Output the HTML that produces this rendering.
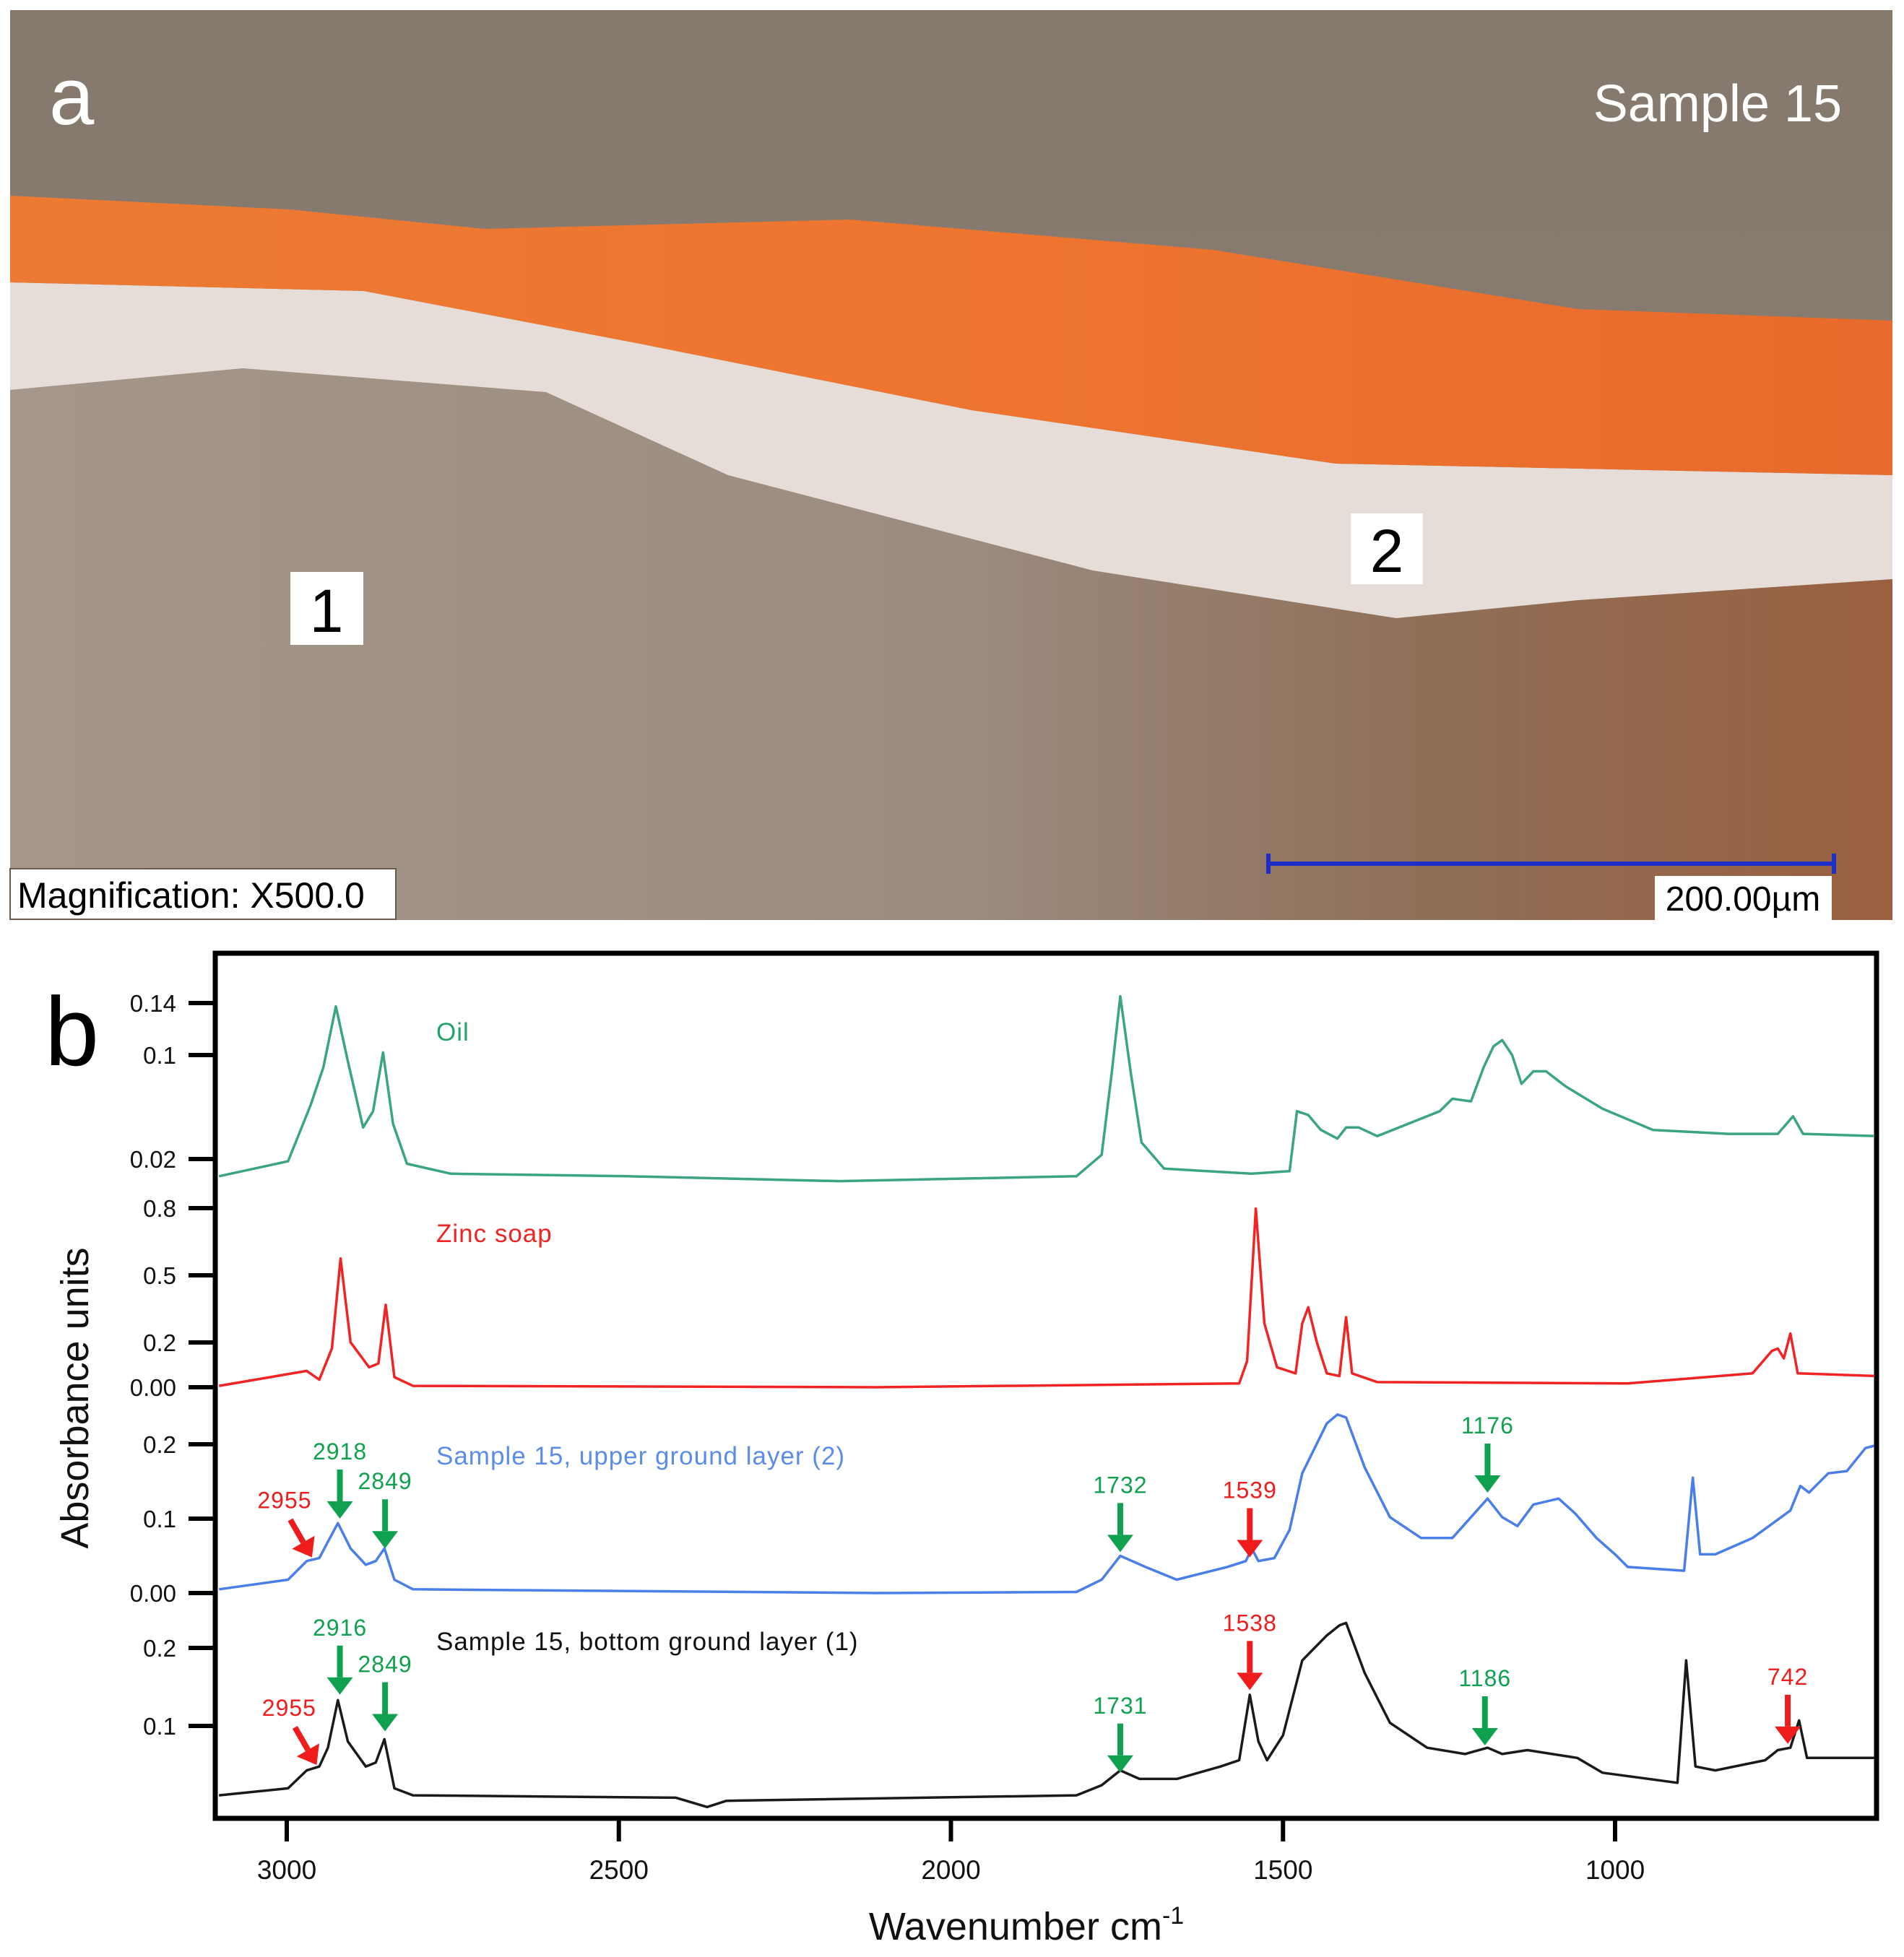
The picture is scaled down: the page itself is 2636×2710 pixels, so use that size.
<!DOCTYPE html>
<html><head><meta charset="utf-8">
<style>
html,body{margin:0;padding:0;background:#fff;}
svg{display:block;font-family:"Liberation Sans",Arial,sans-serif;}
</style></head>
<body>
<svg id="fig" width="2636" height="2710" viewBox="0 0 2636 2710" xmlns="http://www.w3.org/2000/svg">
<defs>
<linearGradient id="bgTop" x1="0" y1="0" x2="0" y2="1"><stop offset="0" stop-color="#85796d"/><stop offset="1" stop-color="#8c8074"/></linearGradient>
<linearGradient id="orangeG" x1="0" y1="0" x2="1" y2="0"><stop offset="0" stop-color="#ec7a33"/><stop offset="0.5" stop-color="#ee7530"/><stop offset="1" stop-color="#e86a2c"/></linearGradient>
<linearGradient id="lowerG" x1="0" y1="0" x2="1" y2="0"><stop offset="0" stop-color="#a4968a"/><stop offset="0.5" stop-color="#9c8c80"/><stop offset="0.75" stop-color="#8f6f58"/><stop offset="1" stop-color="#9a6040"/></linearGradient>
<clipPath id="plotClip"><rect x="301" y="1323" width="2294" height="1192"/></clipPath>
</defs>

<g>
<rect x="14" y="14" width="2606" height="1260" fill="url(#bgTop)"/>
<path d="M14,540 L336,510 L756,543 L1008,658 L1513,790 L1933,856 L2185,831 L2620,802 L2620,1274 L14,1274 Z" fill="url(#lowerG)"/>
<path d="M14,391 L504,403 L891,477 L1345,568 L1849,642 L2620,658 L2620,802 L2185,831 L1933,856 L1513,790 L1008,658 L756,543 L336,510 L14,540 Z" fill="#e6ddd8"/>
<path d="M14,271 L400,290 L672,317 L1176,304 L1680,346 L2185,428 L2620,444 L2620,658 L1849,642 L1345,568 L891,477 L504,403 L14,391 Z" fill="url(#orangeG)"/>
<text x="68" y="172" font-size="112" fill="#fff">a</text>
<text x="2550" y="168" font-size="72" fill="#fff" text-anchor="end">Sample 15</text>
<rect x="402" y="792" width="101" height="101" fill="#fff"/>
<text x="452" y="875" font-size="84" text-anchor="middle" fill="#000">1</text>
<rect x="1870" y="711" width="100" height="98" fill="#fff"/>
<text x="1920" y="792" font-size="84" text-anchor="middle" fill="#000">2</text>
<rect x="14" y="1203" width="534" height="70" fill="#fff" stroke="#6a5a4a" stroke-width="2"/>
<text x="24" y="1257" font-size="50" fill="#000">Magnification: X500.0</text>
<g stroke="#1d2fc8" stroke-width="6">
<line x1="1756" y1="1196" x2="2539" y2="1196"/><line x1="1756" y1="1182" x2="1756" y2="1210"/><line x1="2539" y1="1182" x2="2539" y2="1210"/>
</g>
<rect x="2291" y="1213" width="245" height="61" fill="#fff"/>
<text x="2413" y="1261" font-size="48" text-anchor="middle" fill="#000">200.00µm</text>
</g>

<text x="62" y="1475" font-size="135" fill="#000">b</text>
<g id="chart"></g>
</svg>

<script>
const xTickValues = [3000, 2500, 2000, 1500, 1000];
const oilTicks = [0.02, 0.1, 0.14];
const zincTicks = [0.00, 0.2, 0.5, 0.8];
const upperTicks = [0.00, 0.1, 0.2];
const bottomTicks = [0.1, 0.2];
const oilTickLabels = ["0.02", "0.1", "0.14"];
const zincTickLabels = ["0.00", "0.2", "0.5", "0.8"];
const upperTickLabels = ["0.00", "0.1", "0.2"];
const bottomTickLabels = ["0.1", "0.2"];

const oilWn = [3102,2998,2964,2945,2926,2908,2885,2870,2855,2840,2819,2753,2489,2169,1811,1773,1758,1745,1729,1713,1679,1547,1490,1479,1462,1443,1418,1405,1386,1358,1264,1245,1217,1198,1183,1170,1155,1141,1123,1104,1075,1019,943,830,755,732,717,604];
const oilAbs = [0.0068,0.0183,0.0616,0.0904,0.1374,0.0952,0.0443,0.0568,0.102,0.0472,0.0164,0.0087,0.0068,0.003,0.0068,0.0232,0.0856,0.1452,0.0856,0.0328,0.0126,0.0087,0.0107,0.0568,0.0539,0.0424,0.0357,0.0443,0.0443,0.0376,0.0568,0.0664,0.0644,0.0904,0.1067,0.1115,0.1,0.0779,0.0875,0.0875,0.0761,0.0587,0.0424,0.0394,0.0394,0.0529,0.0394,0.0376];
const zincWn = [3102,2970,2951,2932,2919,2904,2876,2862,2851,2838,2810,2112,1566,1554,1541,1528,1509,1481,1471,1462,1449,1434,1415,1405,1396,1358,981,793,764,755,746,736,725,604];
const zincAbs = [0.006,0.073,0.034,0.173,0.575,0.201,0.089,0.106,0.368,0.045,0.006,0,0.017,0.117,0.798,0.285,0.089,0.062,0.285,0.357,0.201,0.062,0.050,0.313,0.062,0.023,0.017,0.062,0.162,0.173,0.129,0.24,0.062,0.050];
const upperWn = [3102,2998,2970,2951,2938,2923,2904,2881,2866,2853,2838,2810,2112,1811,1773,1745,1707,1660,1584,1556,1547,1537,1513,1490,1471,1434,1418,1405,1377,1339,1292,1245,1217,1192,1170,1147,1123,1085,1060,1028,1000,981,896,883,872,849,793,736,721,708,679,651,623,610];
const upperAbs = [0.005,0.018,0.043,0.047,0.069,0.094,0.060,0.038,0.043,0.060,0.018,0.005,0,0.0015,0.018,0.050,0.035,0.018,0.035,0.043,0.060,0.043,0.047,0.085,0.161,0.228,0.240,0.236,0.169,0.102,0.074,0.074,0.102,0.127,0.102,0.090,0.119,0.127,0.107,0.074,0.052,0.035,0.030,0.155,0.052,0.052,0.074,0.111,0.144,0.135,0.161,0.164,0.195,0.198];
const bottomWn = [3102,2998,2970,2951,2938,2923,2908,2881,2866,2853,2838,2810,2414,2367,2338,1811,1773,1745,1716,1660,1594,1566,1550,1537,1524,1500,1471,1434,1415,1405,1377,1339,1283,1226,1192,1170,1132,1057,1019,906,893,879,849,774,755,736,723,711,604];
const bottomAbs = [0.011,0.020,0.043,0.048,0.072,0.133,0.080,0.048,0.053,0.083,0.020,0.011,0.008,-0.004,0.004,0.011,0.024,0.043,0.032,0.032,0.048,0.056,0.140,0.080,0.056,0.088,0.184,0.216,0.229,0.232,0.168,0.104,0.072,0.064,0.072,0.064,0.069,0.059,0.040,0.027,0.184,0.048,0.043,0.056,0.069,0.072,0.107,0.059,0.059];

const annoText = ["2955","2918","2849","1732","1539","1176","2955","2916","2849","1731","1538","1186","742"];
const annoWn = [2962,2920,2852,1745,1550,1192,2955,2920,2852,1745,1550,1196,740];
const annoPanel = ["upper","upper","upper","upper","upper","upper","bottom","bottom","bottom","bottom","bottom","bottom","bottom"];
const annoAbs = [0.048,0.100,0.060,0.055,0.048,0.135,0.050,0.140,0.093,0.040,0.146,0.075,0.077];
const annoColor = ["red","green","green","green","red","green","red","green","green","green","red","green","red"];

const NS = "http://www.w3.org/2000/svg";
const chart = document.getElementById("chart");
const FL=298, FR=2598, FT=1320, FB=2518;
function xScale(w){ return 397 + (3000 - w) * 0.9195; }
const panels = {
  oil:{y0:1641,k:1800}, zinc:{y0:1921,k:310}, upper:{y0:2206,k:1030}, bottom:{y0:2498,k:1080}
};
function yScale(p, v){ return panels[p].y0 - v * panels[p].k; }
function mk(tag, attrs){ const e=document.createElementNS(NS,tag); for(const k in attrs) e.setAttribute(k, attrs[k]); return e; }
const COL = {green:"#0fa14f", red:"#ef1c1c"};

const frame = mk("rect",{x:FL,y:FT,width:FR-FL,height:FB-FT,fill:"none",stroke:"#000","stroke-width":7});


chart.appendChild(frame);

xTickValues.forEach(function(v){
  const x = xScale(v);
  const t = mk("line",{x1:x,y1:FB,x2:x,y2:FB+32,stroke:"#000","stroke-width":6});
  
  
  chart.appendChild(t);
  const l = mk("text",{x:x,y:2602,"font-size":37,"text-anchor":"middle",fill:"#111"});
  l.textContent = String(v);
  
  
  chart.appendChild(l);
});

function yTicks(p, vals, labels){
  vals.forEach(function(v,i){
    const y = yScale(p, v);
    const t = mk("line",{x1:261,y1:y,x2:FL,y2:y,stroke:"#000","stroke-width":6});
    
    
    chart.appendChild(t);
    const l = mk("text",{x:244,y:y+12,"font-size":33,"text-anchor":"end",fill:"#111"});
    l.textContent = labels[i];
    
    
    chart.appendChild(l);
  });
}
yTicks("oil", oilTicks, oilTickLabels);
yTicks("zinc", zincTicks, zincTickLabels);
yTicks("upper", upperTicks, upperTickLabels);
yTicks("bottom", bottomTicks, bottomTickLabels);

function drawSeries(p, wn, ab, color, name){
  let d = "";
  for(let i=0;i<wn.length;i++){ d += (i? "L":"M") + xScale(wn[i]).toFixed(1) + "," + yScale(p, ab[i]).toFixed(1); }
  const path = mk("path",{d:d,fill:"none",stroke:color,"stroke-width":3.5,"stroke-linejoin":"round","clip-path":"url(#plotClip)"});
  
  
  chart.appendChild(path);
}
drawSeries("oil", oilWn, oilAbs, "#3aa57f", "oil-spectrum");
drawSeries("zinc", zincWn, zincAbs, "#f02424", "zinc-soap-spectrum");
drawSeries("upper", upperWn, upperAbs, "#4a7ee8", "upper-layer-spectrum");
drawSeries("bottom", bottomWn, bottomAbs, "#1a1a1a", "bottom-layer-spectrum");

function seriesLabel(txt, y, color, name){
  const t = mk("text",{x:604,y:y,"font-size":35,fill:color,"letter-spacing":"1"});
  t.textContent = txt;
  
  
  chart.appendChild(t);
}
seriesLabel("Oil", 1441, "#22a36a", "oil-label");
seriesLabel("Zinc soap", 1720, "#f02424", "zinc-soap-label");
seriesLabel("Sample  15, upper ground layer (2)", 2028, "#5b8de8", "upper-layer-label");
seriesLabel("Sample  15, bottom ground layer (1)", 2285, "#111", "bottom-layer-label");

annoText.forEach(function(txt,i){
  const col = COL[annoColor[i]];
  const x = xScale(annoWn[i]);
  const yTip = yScale(annoPanel[i], annoAbs[i]);
  const g = mk("g",{});
  
  
  const diag = (txt === "2955");
  let sx, sy, lx, ly;
  if(diag){ sx = x - 30; sy = yTip - 52; lx = x - 38; ly = yTip - 68; }
  else { sx = x; sy = yTip - 68; lx = x; ly = yTip - 82; }
  const ang = Math.atan2(yTip - sy, x - sx);
  const hb = 18, hl = 24;
  const bx = x - hl*Math.cos(ang), by = yTip - hl*Math.sin(ang);
  const line = mk("line",{x1:sx,y1:sy,x2:bx,y2:by,stroke:col,"stroke-width":8});
  const head = mk("polygon",{points:
    x+","+yTip+" "+(bx+hb*Math.sin(ang))+","+(by-hb*Math.cos(ang))+" "+(bx-hb*Math.sin(ang))+","+(by+hb*Math.cos(ang)),fill:col});
  const label = mk("text",{x:lx,y:ly,"font-size":32,"text-anchor":"middle",fill:col,"letter-spacing":"1"});
  label.textContent = txt;
  g.appendChild(line); g.appendChild(head); g.appendChild(label);
  chart.appendChild(g);
});

const xt = mk("text",{x:1421,y:2686,"font-size":54,"text-anchor":"middle",fill:"#111"});


xt.appendChild(document.createTextNode("Wavenumber cm"));
const sup = mk("tspan",{dy:-22,"font-size":34}); sup.textContent = "-1";
xt.appendChild(sup);
chart.appendChild(xt);
const yt = mk("text",{x:0,y:0,"font-size":54,"text-anchor":"middle",fill:"#111",transform:"translate(122,1936) rotate(-90)"});
yt.textContent = "Absorbance units";


chart.appendChild(yt);
</script>
</body></html>
